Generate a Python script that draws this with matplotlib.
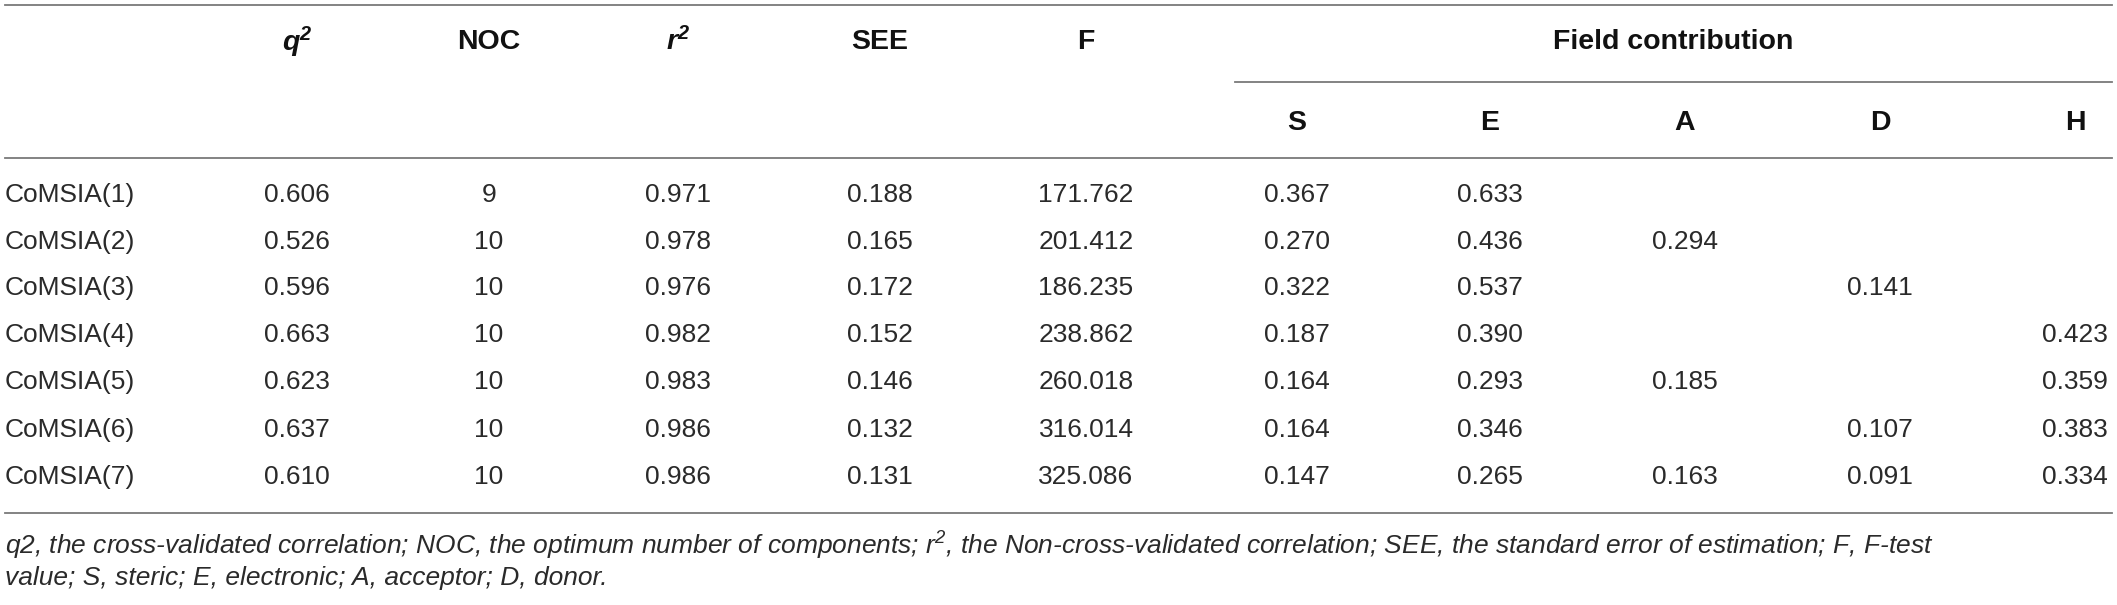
import matplotlib
matplotlib.use("Agg")
import matplotlib.pyplot as plt

plt.rcParams['font.family'] = ['Liberation Sans', 'DejaVu Sans']
plt.rcParams['mathtext.default'] = 'regular'

# table data
models = ["CoMSIA(1)", "CoMSIA(2)", "CoMSIA(3)", "CoMSIA(4)",
          "CoMSIA(5)", "CoMSIA(6)", "CoMSIA(7)"]
q2 = ["0.606", "0.526", "0.596", "0.663", "0.623", "0.637", "0.610"]
noc = ["9", "10", "10", "10", "10", "10", "10"]
r2 = ["0.971", "0.978", "0.976", "0.982", "0.983", "0.986", "0.986"]
see = ["0.188", "0.165", "0.172", "0.152", "0.146", "0.132", "0.131"]
fval = ["171.762", "201.412", "186.235", "238.862", "260.018", "316.014", "325.086"]
s_f = ["0.367", "0.270", "0.322", "0.187", "0.164", "0.164", "0.147"]
e_f = ["0.633", "0.436", "0.537", "0.390", "0.293", "0.346", "0.265"]
a_f = ["", "0.294", "", "", "0.185", "", "0.163"]
d_f = ["", "", "0.141", "", "", "0.107", "0.091"]
h_f = ["", "", "", "0.423", "0.359", "0.383", "0.334"]

top_heads = ["$q^{2}$", "NOC", "$r^{2}$", "SEE", "F"]
sub_heads = ["S", "E", "A", "D", "H"]
group_head = "Field contribution"
footnote = ["q2, the cross-validated correlation; NOC, the optimum number of components; "
            "r$^{2}$, the Non-cross-validated correlation; SEE, the standard error of estimation; F, F-test",
            "value; S, steric; E, electronic; A, acceptor; D, donor."]

W, H = 2117, 605
fig = plt.figure(figsize=(W / 100, H / 100), dpi=100)
ax = fig.add_axes([0, 0, 1, 1])
ax.set_xlim(0, W)
ax.set_ylim(H, 0)
ax.axis('off')

col_x = [297, 489, 678, 880, 1086, 1297, 1490, 1685, 1880, 2075]
row_y = [195, 242, 288, 335, 382, 430, 477]
txt_col = '#2a2a2a'
line_col = '#7a7a7a'
fs = 19
hfs = 20.5

# rules
ax.plot([5, 2112], [5, 5], color=line_col, lw=1.3)
ax.plot([1235, 2112], [82, 82], color=line_col, lw=1.3)
ax.plot([5, 2112], [158, 158], color=line_col, lw=1.3)
ax.plot([5, 2112], [513, 513], color=line_col, lw=1.3)

# headers
for x, h in zip(col_x[:5], top_heads):
    style = 'italic' if '$' in h else 'normal'
    ax.text(x, 42, h, ha='center', va='center', fontsize=hfs, fontweight='bold',
            style=style, color='#111')
ax.text((1235 + 2112) / 2, 42, group_head, ha='center', va='center', fontsize=hfs,
        fontweight='bold', color='#111')
for x, h in zip(col_x[5:], sub_heads):
    ax.text(x, 123, h, ha='center', va='center', fontsize=hfs, fontweight='bold', color='#111')

# body
cols = [q2, noc, r2, see, fval, s_f, e_f, a_f, d_f, h_f]
for i, y in enumerate(row_y):
    ax.text(5, y, models[i], ha='left', va='center', fontsize=fs, color=txt_col)
    for x, c in zip(col_x, cols):
        if c[i]:
            ax.text(x, y, c[i], ha='center', va='center', fontsize=fs, color=txt_col)

# footnote
ax.text(5, 546, footnote[0], ha='left', va='center', fontsize=fs, style='italic', color=txt_col)
ax.text(5, 578, footnote[1], ha='left', va='center', fontsize=fs, style='italic', color=txt_col)

fig.savefig("out.png", dpi=100)
